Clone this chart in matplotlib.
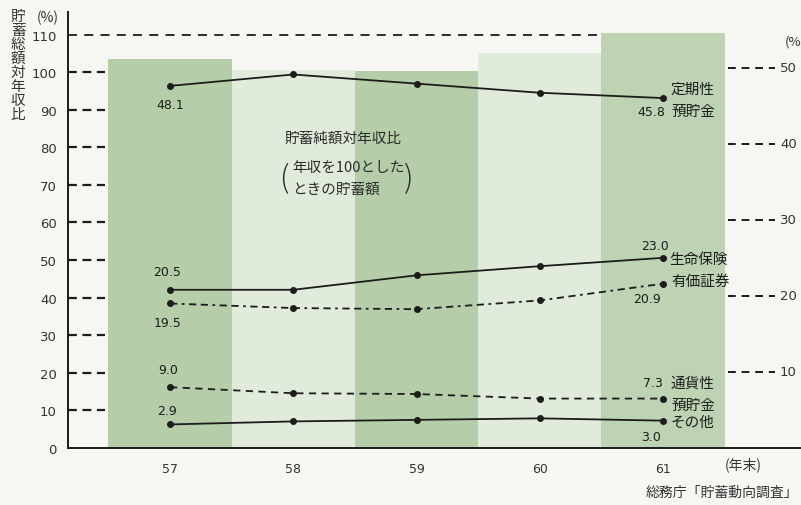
import matplotlib
matplotlib.use("Agg")
import matplotlib.pyplot as plt

plt.rcParams['font.family'] = ['Noto Sans CJK JP', 'DejaVu Sans']

# ---- data ----
years = [57, 58, 59, 60, 61]
year_labels = ["57", "58", "59", "60", "61"]
saving_ratio = [103.4, 100.5, 100.2, 105.0, 110.3]      # 貯蓄総額対年収比 (left axis)

teiki = [47.6, 49.1, 47.9, 46.7, 46.0]       # 定期性預貯金 (right axis)
seimei = [20.8, 20.8, 22.7, 23.9, 25.0]      # 生命保険
yuka = [19.0, 18.4, 18.25, 19.4, 21.6]       # 有価証券
tsuka = [8.0, 7.2, 7.1, 6.5, 6.5]            # 通貨性預貯金
sonota = [3.1, 3.5, 3.7, 3.9, 3.6]           # その他

left_ticks = [0, 10, 20, 30, 40, 50, 60, 70, 80, 90, 100, 110]
right_ticks = [10, 20, 30, 40, 50]

bg = "#f6f6f3"
dark_green = "#b5cda9"
light_green = "#e1ebdb"
bar_colors = [dark_green, light_green, dark_green, light_green, "#bdd3b3"]
ink = "#1c1c1c"

fig = plt.figure(figsize=(8.01, 5.06), dpi=100, facecolor=bg)
ax = fig.add_axes([0.0849, 0.1126, 0.9151, 0.8617])
ax.set_facecolor(bg)
ax.set_xlim(56.172, 62.12)
ax.set_ylim(0, 116)

ax.bar(years, saving_ratio, width=1.0, color=bar_colors, zorder=1)

# left dashed tick lines and the 110 line
ax.hlines(left_ticks[1:-1], 56.172, 56.47, colors=ink, linewidth=1.6,
          linestyles=(0, (4, 2.5)), zorder=0.5)
ax.hlines(110, 56.172, 60.5, colors=ink, linewidth=1.3,
          linestyles=(0, (5, 4)), zorder=2)

ax.set_yticks(left_ticks)
ax.set_yticklabels([str(t) for t in left_ticks], fontsize=9.5, color="#333333",
                   family=['DejaVu Sans'])
ax.set_xticks(years)
ax.set_xticklabels(year_labels, fontsize=9, color="#333333", family=['DejaVu Sans'])
ax.tick_params(length=0, pad=8)
ax.tick_params(axis='x', pad=10)
for s in ["top", "right"]:
    ax.spines[s].set_visible(False)
for s in ["left", "bottom"]:
    ax.spines[s].set_color(ink)
    ax.spines[s].set_linewidth(1.4)

# right axis for the composition lines
ax2 = ax.twinx()
ax2.set_ylim(0, 116 / 2.024)
ax2.set_axis_off()
ax2.hlines(right_ticks, 61.53, 61.91, colors=ink, linewidth=1.4,
           linestyles=(0, (4, 3)), clip_on=False)
for t in right_ticks:
    ax2.text(61.95, t, str(t), fontsize=9.5, color="#333333", va="center",
             ha="left", family=['DejaVu Sans'], clip_on=False)
ax2.text(61.99, 53.5, "(%", fontsize=9.5, color="#333333", va="center",
         ha="left", clip_on=False)

mk = dict(marker="o", markersize=4, color=ink, linewidth=1.3, zorder=3)
ax2.plot(years, teiki, **mk)
ax2.plot(years, seimei, **mk)
ax2.plot(years, yuka, linestyle=(0, (4, 2.5, 1.5, 2.5, 4, 2.5)), **mk)
ax2.plot(years, tsuka, linestyle=(0, (4, 3)), **mk)
ax2.plot(years, sonota, **mk)

fs = 10.5
num = dict(fontsize=9, color=ink, family=['DejaVu Sans'])
off = dict(textcoords="offset points", va="center")


def lab(txt, x, y, dx, dy, ha="center", **kw):
    ax2.annotate(txt, (x, y), xytext=(dx * 0.72, dy * 0.72), ha=ha, **off, **kw)


# left end labels
lab("48.1", years[0], teiki[0], 0, -19, **num)
lab("20.5", years[0], seimei[0], -3, 18, **num)
lab("19.5", years[0], yuka[0], -2, -19, **num)
lab("9.0", years[0], tsuka[0], -2, 18, **num)
lab("2.9", years[0], sonota[0], -3, 14, **num)

# right end labels
lab("定期性", years[-1], teiki[-1], 8, 9, ha="left", fontsize=fs, color=ink)
lab("預貯金", years[-1], teiki[-1], 8, -13, ha="left", fontsize=fs, color=ink)
lab("45.8", years[-1], teiki[-1], 2, -13, ha="right", **num)
lab("23.0", years[-1], seimei[-1], -8, 12, **num)
lab("生命保険", years[-1], seimei[-1], 6, -1, ha="left", fontsize=fs, color=ink)
lab("有価証券", years[-1], yuka[-1], 8, 3, ha="left", fontsize=fs, color=ink)
lab("20.9", years[-1], yuka[-1], -16, -15, **num)
lab("7.3", years[-1], tsuka[-1], 0, 16, ha="right", **num)
lab("通貨性", years[-1], tsuka[-1], 8, 16, ha="left", fontsize=fs, color=ink)
lab("預貯金", years[-1], tsuka[-1], 8, -6, ha="left", fontsize=fs, color=ink)
lab("その他", years[-1], sonota[-1], 8, -1, ha="left", fontsize=fs, color=ink)
lab("3.0", years[-1], sonota[-1], -12, -16, **num)

# middle annotation
note = "#2a2a2a"
ax.text(58.40, 82.6, "貯蓄純額対年収比", fontsize=10.5, color=note,
        ha="center", va="center", zorder=4)
ax.text(57.99, 74.8, "年収を100とした", fontsize=10.5, color=note,
        ha="left", va="center", zorder=4)
ax.text(57.99, 69.0, "ときの貯蓄額", fontsize=10.5, color=note,
        ha="left", va="center", zorder=4)
ax.text(57.92, 71.9, "(", fontsize=22, color=note, ha="center",
        va="center", fontweight="light", zorder=4)
ax.text(58.94, 71.9, ")", fontsize=22, color=note, ha="center",
        va="center", fontweight="light", zorder=4)

# axis titles and source
ax.text(61.65, -4.3, "(年末)", fontsize=10, color="#333333", ha="center",
        va="center", clip_on=False)
fig.text(18 / 801, 1 - 10 / 506, "\n".join("貯蓄総額対年収比"), fontsize=10.5,
         color="#333333", ha="center", va="top", linespacing=1.0)
fig.text(48 / 801, 1 - 18 / 506, "(%)", fontsize=10, color="#333333",
         ha="center", va="center")
fig.text(0.997, 1 - 493 / 506, "総務庁「貯蓄動向調査」", fontsize=10,
         color="#333333", ha="right", va="center")

fig.savefig("out.png", dpi=100, facecolor=bg)
